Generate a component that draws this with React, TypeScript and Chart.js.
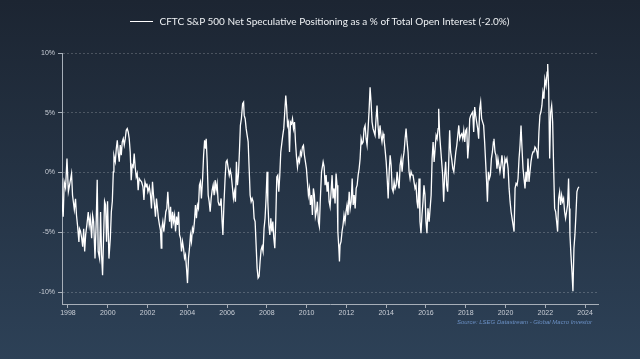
import React, { useEffect, useRef } from 'react';
import { Chart, registerables } from 'chart.js';

Chart.register(...registerables);

const TITLE = 'CFTC S&P 500 Net Speculative Positioning as a % of Total Open Interest (-2.0%)';
const SOURCE = 'Source: LSEG Datastream - Global Macro Investor';

const X_TICK_YEARS = [1998, 2000, 2002, 2004, 2006, 2008, 2010, 2012, 2014, 2016, 2018, 2020, 2022, 2024];
const Y_TICK_VALUES = [-10, -5, 0, 5, 10];
const X_MIN = 1997.7;
const X_MAX = 2024.65;
const Y_MIN = -11;
const Y_MAX = 10;

// Decimal-year dates and values (% of open interest)
const dates = [
  1997.68, 1997.71, 1997.76, 1997.81, 1997.88, 1997.95, 1998.02, 1998.08, 1998.18, 1998.23,
  1998.32, 1998.38, 1998.43, 1998.48, 1998.55, 1998.58, 1998.63, 1998.69, 1998.74, 1998.79,
  1998.84, 1998.89, 1998.95, 1999.02, 1999.07, 1999.12, 1999.19, 1999.24, 1999.29, 1999.36,
  1999.42, 1999.47, 1999.52, 1999.59, 1999.64, 1999.69, 1999.74, 1999.79, 1999.84, 1999.89,
  1999.94, 1999.99, 2000.06, 2000.13, 2000.18, 2000.23, 2000.28, 2000.31, 2000.38, 2000.43,
  2000.48, 2000.53, 2000.58, 2000.63, 2000.68, 2000.73, 2000.78, 2000.83, 2000.88, 2000.93,
  2000.98, 2001.03, 2001.08, 2001.13, 2001.18, 2001.23, 2001.28, 2001.33, 2001.38, 2001.43,
  2001.48, 2001.53, 2001.58, 2001.63, 2001.70, 2001.77, 2001.82, 2001.87, 2001.93,
  2001.97, 2002.02, 2002.09, 2002.15, 2002.20, 2002.25, 2002.30, 2002.35, 2002.40, 2002.45,
  2002.50, 2002.55, 2002.60, 2002.65, 2002.69, 2002.72, 2002.77, 2002.82, 2002.87, 2002.92,
  2002.97, 2003.02, 2003.06, 2003.11, 2003.16, 2003.21, 2003.26, 2003.31, 2003.36, 2003.41,
  2003.46, 2003.51, 2003.56, 2003.61, 2003.66, 2003.71, 2003.76, 2003.81, 2003.86, 2003.91,
  2003.96, 2004.01, 2004.06, 2004.11, 2004.16, 2004.21, 2004.26, 2004.31, 2004.36, 2004.41,
  2004.46, 2004.51, 2004.56, 2004.61, 2004.66, 2004.71, 2004.77, 2004.82, 2004.87, 2004.92,
  2004.95, 2005.00, 2005.05, 2005.10, 2005.15, 2005.20, 2005.25, 2005.30, 2005.35, 2005.40,
  2005.45, 2005.50, 2005.55, 2005.60, 2005.65, 2005.70, 2005.75, 2005.79, 2005.84, 2005.90,
  2005.95, 2006.00, 2006.06, 2006.11, 2006.16, 2006.21, 2006.26,
  2006.32, 2006.37, 2006.42, 2006.47, 2006.52, 2006.57, 2006.62, 2006.67, 2006.72, 2006.78,
  2006.83, 2006.86, 2006.91, 2006.96, 2007.01, 2007.06, 2007.11, 2007.16, 2007.21, 2007.26,
  2007.31, 2007.36, 2007.41, 2007.46, 2007.51, 2007.56, 2007.61, 2007.66, 2007.71, 2007.76,
  2007.81, 2007.86, 2007.91, 2007.96, 2008.01, 2008.05, 2008.10, 2008.15, 2008.20, 2008.25,
  2008.30, 2008.35, 2008.40, 2008.45, 2008.50, 2008.55, 2008.60, 2008.65, 2008.70, 2008.75,
  2008.80, 2008.85, 2008.90, 2008.95, 2008.99, 2009.04, 2009.09, 2009.14, 2009.19, 2009.24,
  2009.29, 2009.34, 2009.39, 2009.44, 2009.49, 2009.54, 2009.59, 2009.64, 2009.69, 2009.74,
  2009.79, 2009.84, 2009.89, 2009.94, 2009.99, 2010.04, 2010.09, 2010.14, 2010.19, 2010.24,
  2010.29, 2010.34, 2010.39, 2010.44, 2010.49, 2010.54, 2010.59, 2010.64, 2010.69, 2010.75,
  2010.83, 2010.88, 2010.93, 2010.98, 2011.03, 2011.08, 2011.13, 2011.18, 2011.23, 2011.28,
  2011.33, 2011.38, 2011.43, 2011.48, 2011.53, 2011.57, 2011.62, 2011.65, 2011.68, 2011.73,
  2011.78, 2011.83, 2011.88, 2011.93, 2011.98, 2012.03, 2012.08, 2012.14, 2012.19, 2012.24,
  2012.29, 2012.34, 2012.39, 2012.44, 2012.49, 2012.54, 2012.59, 2012.64, 2012.69, 2012.74,
  2012.79, 2012.84, 2012.89, 2012.94, 2012.99, 2013.04, 2013.09, 2013.14, 2013.19, 2013.24,
  2013.29, 2013.34, 2013.39, 2013.44, 2013.49, 2013.54, 2013.59, 2013.64, 2013.69, 2013.74,
  2013.79, 2013.84, 2013.89, 2013.94, 2014.00, 2014.05, 2014.10, 2014.15, 2014.20, 2014.25,
  2014.30, 2014.35, 2014.40, 2014.45, 2014.50, 2014.55, 2014.60, 2014.65, 2014.70, 2014.75,
  2014.80, 2014.85, 2014.90, 2014.95, 2015.00, 2015.05, 2015.10,
  2015.15, 2015.20, 2015.25, 2015.30, 2015.35, 2015.40, 2015.45, 2015.50, 2015.55, 2015.60,
  2015.65, 2015.70, 2015.75, 2015.80, 2015.85, 2015.90, 2015.95, 2016.00, 2016.05, 2016.10,
  2016.16, 2016.21, 2016.26, 2016.31, 2016.36, 2016.41, 2016.46, 2016.51, 2016.56, 2016.61,
  2016.64, 2016.69, 2016.74, 2016.79, 2016.84, 2016.89, 2016.94, 2016.99, 2017.04, 2017.09,
  2017.14, 2017.19, 2017.24, 2017.29, 2017.35, 2017.40, 2017.45, 2017.50, 2017.55, 2017.60,
  2017.65, 2017.70, 2017.75, 2017.80, 2017.85, 2017.90, 2017.95, 2018.00, 2018.05, 2018.10,
  2018.15, 2018.20, 2018.25, 2018.30, 2018.35, 2018.40, 2018.45, 2018.50, 2018.55, 2018.60,
  2018.65, 2018.70, 2018.75, 2018.80, 2018.85, 2018.90, 2018.95, 2019.00, 2019.05, 2019.09,
  2019.14, 2019.19, 2019.24, 2019.29, 2019.34, 2019.39,
  2019.42, 2019.47, 2019.52, 2019.57, 2019.62, 2019.67, 2019.72, 2019.77, 2019.82, 2019.87,
  2019.92, 2019.97, 2020.02, 2020.07, 2020.13, 2020.18, 2020.23, 2020.28, 2020.33, 2020.38,
  2020.43, 2020.48, 2020.53, 2020.58, 2020.63, 2020.68, 2020.73, 2020.78, 2020.83, 2020.88,
  2020.93, 2020.98, 2021.03, 2021.08, 2021.13, 2021.18, 2021.23, 2021.28, 2021.33, 2021.38,
  2021.43, 2021.48, 2021.53, 2021.58, 2021.63, 2021.68, 2021.73, 2021.78, 2021.83, 2021.88,
  2021.93, 2021.98, 2022.04, 2022.09, 2022.12, 2022.17, 2022.22, 2022.27, 2022.32, 2022.37,
  2022.42, 2022.47, 2022.52, 2022.57, 2022.62, 2022.67, 2022.72, 2022.77, 2022.82, 2022.87,
  2022.92, 2022.97, 2023.02, 2023.07, 2023.12, 2023.17, 2023.21, 2023.24, 2023.29, 2023.34,
  2023.39, 2023.44, 2023.49, 2023.54, 2023.59, 2023.64, 2023.69,
];

const values = [
  -0.5, -2.7, -3.7, -0.8, -1.3, 1.17, -1.6, -1.06, -0.08, -1.9,
  -3.1, -2.2, -3.6, -4.4, -5.8, -4.7, -4.9, -5.5, -6.2, -4.7,
  -6.6, -5.2, -4.4, -3.3, -4.4, -3.8, -5.5, -3.6, -4.1, -7.2,
  -4.1, -0.6, -6.6, -7.2, -3.3, -6.9, -8.6, -5.5, -2.4, -2.7,
  -5.8, -2.4, -7.2, -5.5, -3.3, -2.4, 0.06, 1.44, 0.9, 2.0,
  2.7, 1.6, 0.9, 2.3, 1.44, 2.56, 2.83, 2.3, 2.83, 3.53,
  3.67, 3.39, 2.83, 1.72, -0.64, 0.61, 0.47, 1.58, 0.47, -0.36,
  -0.08, -1.47, -0.5, -0.64, -0.78, -1.19, -2.3, -0.78, -1.19,
  -0.92, -1.61, -1.19, -1.89, -3.0, -0.78, -1.89, -2.72, -3.69, -2.17,
  -3.0, -3.83, -4.39, -4.81, -6.33, -4.67, -4.11, -4.94, -4.11, -3.28,
  -3.0, -1.61, -2.72, -4.11, -2.86, -4.67, -3.28, -4.11, -3.56, -4.94,
  -3.69, -4.39, -3.28, -5.22, -5.5, -6.61, -5.78, -6.33, -7.17, -6.89,
  -8.0, -9.25, -7.17, -6.33, -5.22, -5.78, -4.67, -4.94, -4.11, -2.72,
  -3.83, -2.72, -3.0, -1.06, -0.78, -2.17, -0.5, 1.44, 2.69, 2.0,
  2.83, 0.89, -1.89, -2.44, -3.28, -2.17, -1.47, -1.06, -1.89, -0.64,
  -1.47, -0.92, -2.44, -2.72, -2.72, -2.17, -4.11, -5.22, -2.72, -0.5,
  0.89, 1.03, 0.33, -0.22, 0.19, -0.22, -1.06,
  -2.17, -1.61, -2.44, 0.89, -1.06, -0.22, 1.72, 3.94, 4.5, 5.75,
  5.89, 4.78, 4.5, 3.67, 3.11, 2.56, 0.33, -1.89, -2.44, -2.17,
  -2.44, -3.83, -4.11, -6.06, -8.0, -8.83, -8.69, -7.44, -6.47, -6.19,
  -6.61, -4.67, -3.83, -2.17, 0.06, -2.44, -4.39, -5.22, -3.83, -4.94,
  -4.11, -5.5, -6.33, -3.83, -0.36, -0.22, -1.61, -0.22, 1.72, 2.42,
  3.11, 3.67, 5.06, 6.44, 5.61, 3.94, 4.22, 1.72, 4.22, 4.08,
  4.5, 3.67, 4.22, 2.56, 1.31, 0.47, 1.17, 0.89, 1.72, 1.44,
  2.14, 2.28, 1.44, 0.89, 0.33, -0.78, -1.89, -1.33, -2.72, -1.89,
  -3.56, -1.33, -1.89, -3.69, -3.28, -2.44, -4.11, -4.53, -2.17, 0.06,
  0.89, 0.47, -1.06, -0.22, -1.61, -0.78, -2.44, -2.86, -1.61, -0.22,
  -2.17, -1.33, -2.58, -0.08, -1.06, -4.94, -6.33, -7.44, -6.06, -5.78,
  -4.94, -4.39, -3.56, -4.11, -3.28, -2.72, -3.56, -1.61, -3.0, -2.44,
  -0.5, -2.72, -1.89, -3.0, -1.33, -1.06, -0.22, 0.33, 1.17, 2.83,
  2.42, 2.56, 3.67, 3.94, 2.83, 2.28, 3.67, 5.19, 7.14, 5.89,
  4.22, 3.67, 3.39, 3.11, 4.5, 5.61, 3.94, 2.83, 3.94, 3.11,
  2.56, 3.25, 2.83, 2.0, 0.89, -0.5, -2.17, 0.06, 1.44, 0.61,
  -1.33, -1.61, -0.78, -1.33, -1.06, 0.06, -0.78, -1.33, 0.61, 1.17,
  0.06, 1.17, 1.72, 2.83, 3.67, 2.56, 1.72,
  0.06, -0.5, 0.06, -0.22, -0.22, -0.78, -1.33, -1.06, -2.44, -3.0,
  -0.5, -4.11, -5.08, -3.56, -2.44, -1.06, -1.89, -4.11, -5.08, -3.0,
  -4.11, -3.0, -1.89, 1.17, 2.56, 0.89, 2.0, 3.11, 2.83, 3.67,
  5.33, 3.11, 2.0, 0.89, -0.22, -2.44, -0.22, 0.89, -1.06, -1.61,
  0.61, 3.53, 1.72, 1.17, 0.33, 0.06, 0.89, 1.72, 2.28, 3.11,
  3.94, 2.83, 3.11, 3.25, 2.83, 3.53, 2.56, 3.53, 3.67, 1.17,
  2.28, 4.5, 4.78, 4.92, 5.06, 3.39, 5.47, 4.78, 4.22, 3.67,
  2.83, 5.33, 5.89, 4.5, 4.22, 3.94, 2.56, 0.89, -0.78, -2.44,
  0.06, -0.5, -0.22, 1.17, 1.72, 2.56,
  2.83, 1.72, 1.44, 0.33, 1.17, 0.61, 0.06, 0.61, 1.44, 0.61,
  -0.5, 1.17, 0.89, 1.17, 0.33, -1.33, -2.44, -3.28, -3.83, -4.39,
  -4.94, -1.33, -0.92, -1.06, -0.5, 1.17, 2.28, 3.94, 2.0, 0.33,
  -0.5, -1.33, 0.06, -0.78, 1.17, -0.78, 0.06, 0.89, 1.44, 1.72,
  1.72, 2.14, 2.0, 1.72, 1.17, 3.39, 4.78, 5.06, 5.61, 6.72,
  6.17, 7.83, 7.28, 8.39, 9.08, 7.0, 1.17, 5.06, 5.61, 4.22,
  0.33, -3.0, -3.28, -4.11, -4.94, -2.17, -1.61, -2.72, -1.89, -2.44,
  -2.17, -3.28, -3.83, -3.28, -2.72, -0.5, -3.0, -5.22, -6.89, -8.28,
  -9.94, -6.33, -5.22, -3.56, -1.61, -1.33, -1.19,
];

const AXIS_COLOR = '#a7afb9';
const LABEL_COLOR = '#c9ced6';
const GRID_COLOR = 'rgba(255,255,255,0.2)';
const TICK_FONT = { family: '"Liberation Sans", Arial, sans-serif', size: 7 };

export default function App() {
  const canvasRef = useRef<HTMLCanvasElement>(null);

  useEffect(() => {
    document.body.style.margin = '0';
    const canvas = canvasRef.current;
    if (!canvas) return;
    const points = dates.map((d, i) => ({ x: d, y: values[i] }));
    const chart = new Chart(canvas, {
      type: 'line',
      data: {
        datasets: [
          {
            label: TITLE,
            data: points,
            borderColor: '#ffffff',
            borderWidth: 1.3,
            pointRadius: 0,
            tension: 0,
            fill: false,
          },
        ],
      },
      options: {
        responsive: false,
        animation: false,
        layout: { padding: { left: 0, right: 42, top: 53, bottom: 35 } },
        plugins: {
          legend: { display: false },
          tooltip: { enabled: false },
        },
        scales: {
          x: {
            type: 'linear',
            min: X_MIN,
            max: X_MAX,
            afterFit: (s: any) => {
              s.height = 20;
            },
            afterBuildTicks: (s: any) => {
              s.ticks = X_TICK_YEARS.map((v) => ({ value: v }));
            },
            ticks: {
              color: LABEL_COLOR,
              font: TICK_FONT,
              padding: 1,
              maxRotation: 0,
              autoSkip: false,
              callback: (v: any) => String(v),
            },
            grid: {
              drawOnChartArea: false,
              drawTicks: true,
              tickLength: 4,
              tickColor: AXIS_COLOR,
            },
            border: { display: true, color: AXIS_COLOR, width: 1 },
          },
          y: {
            type: 'linear',
            min: Y_MIN,
            max: Y_MAX,
            afterFit: (s: any) => {
              s.width = 62;
            },
            afterBuildTicks: (s: any) => {
              s.ticks = Y_TICK_VALUES.map((v) => ({ value: v }));
            },
            ticks: {
              color: LABEL_COLOR,
              font: TICK_FONT,
              padding: 3,
              callback: (v: any) => v + '%',
            },
            grid: {
              color: GRID_COLOR,
              drawTicks: true,
              tickLength: 4,
              tickColor: AXIS_COLOR,
              tickBorderDash: [],
            },
            border: { display: true, color: AXIS_COLOR, width: 1, dash: [2, 2] },
          },
        },
      },
    });
    return () => chart.destroy();
  }, []);

  return (
    <div
      style={{
        position: 'relative',
        width: 640,
        height: 359,
        overflow: 'hidden',
        background: 'linear-gradient(to bottom, #1c2532 0%, #2d4157 100%)',
      }}
    >
      <canvas
        ref={canvasRef}
        width={640}
        height={359}
        style={{ position: 'absolute', left: 0, top: 0, width: 640, height: 359 }}
      />
      <div
        style={{
          position: 'absolute',
          top: 14,
          left: 0,
          width: 640,
          textAlign: 'center',
          color: '#eef1f4',
          fontFamily: 'Lato, "Liberation Sans", Arial, sans-serif',
          fontSize: 10,
          lineHeight: '12px',
          whiteSpace: 'nowrap',
        }}
      >
        <span
          style={{
            display: 'inline-block',
            width: 23,
            borderTop: '1px solid #ffffff',
            verticalAlign: 'middle',
            marginRight: 6,
          }}
        />
        <span style={{ verticalAlign: 'middle' }}>{TITLE}</span>
      </div>
      <div
        style={{
          position: 'absolute',
          right: 48,
          top: 318,
          color: '#6a8fc3',
          fontFamily: '"Liberation Sans", Arial, sans-serif',
          fontStyle: 'italic',
          fontSize: 6,
          lineHeight: '8px',
          whiteSpace: 'nowrap',
        }}
      >
        {SOURCE}
      </div>
    </div>
  );
}
